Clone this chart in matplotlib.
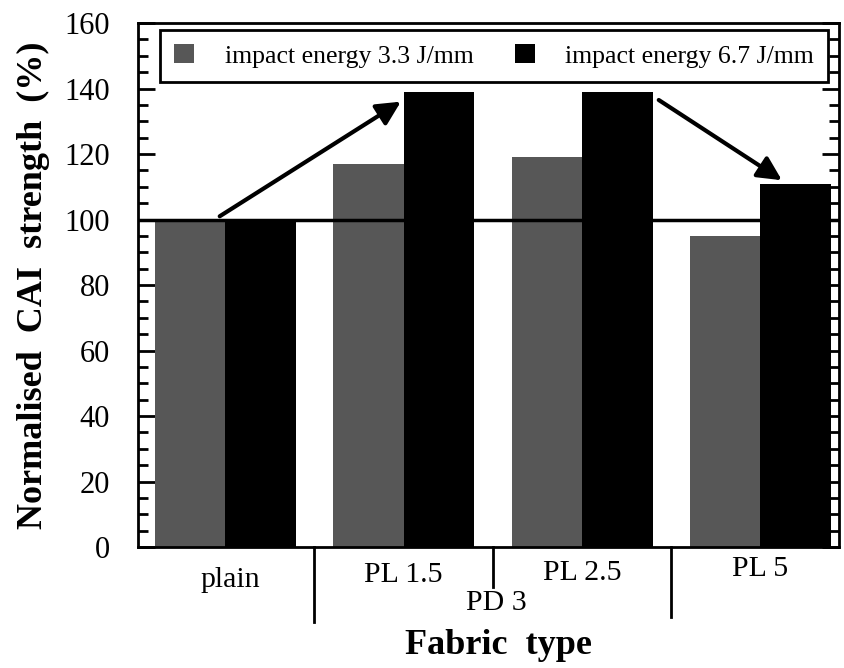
import numpy as np
import matplotlib
matplotlib.use("Agg")
import matplotlib.pyplot as plt
from matplotlib.ticker import MultipleLocator
import matplotlib.transforms as mtransforms

# data
fabrics = ["plain", "PL 1.5", "PL 2.5", "PL 5"]
low_energy = [100, 117, 119, 95]      # impact energy 3.3 J/mm
high_energy = [100, 139, 139, 111]    # impact energy 6.7 J/mm
series_names = ["impact energy 3.3 J/mm", "impact energy 6.7 J/mm"]
group_label = "PD 3"

plt.rcParams['font.family'] = ['Liberation Serif', 'DejaVu Serif']

fig = plt.figure(figsize=(8.44, 6.68), dpi=100)
ax = fig.add_axes([0.1635, 0.1811, 0.8306, 0.7844])

x = np.arange(len(fabrics))
w = 0.395
gray = '#575757'
b1 = ax.bar(x - w/2, low_energy, w, color=gray, edgecolor='none', zorder=2)
b2 = ax.bar(x + w/2, high_energy, w, color='black', edgecolor='none', zorder=2)

ax.axhline(100, color='black', lw=2.5, zorder=3)

ax.set_xlim(-0.488, 3.44)
ax.set_ylim(0, 160)

# arrows showing the trend
ax.annotate('', xy=(0.985, 136), xytext=(-0.03, 101),
            arrowprops=dict(arrowstyle='-|>', lw=3, color='black',
                            mutation_scale=36, shrinkA=0, shrinkB=0), zorder=4)
ax.annotate('', xy=(3.12, 112), xytext=(2.43, 136.5),
            arrowprops=dict(arrowstyle='-|>', lw=3, color='black',
                            mutation_scale=36, shrinkA=0, shrinkB=0), zorder=4)

# axes styling
for s in ax.spines.values():
    s.set_linewidth(2)
ax.yaxis.set_major_locator(MultipleLocator(20))
ax.yaxis.set_minor_locator(MultipleLocator(5))
ax.tick_params(axis='y', which='both', direction='in', left=True, right=True,
               width=2, labelsize=22, pad=20)
ax.tick_params(axis='y', which='major', length=12)
ax.tick_params(axis='y', which='minor', length=7)
ax.set_xticks([])

# category labels and separators below the axis
trans = mtransforms.blended_transform_factory(ax.transData, ax.transAxes)
label_y = [-0.063, -0.053, -0.050, -0.042]
for i, name in enumerate(fabrics):
    ax.text(i + (0.03 if i == 0 else 0), label_y[i], name, transform=trans,
            ha='center', va='center', fontsize=21.5)
ax.text(1.52, -0.107, group_label, transform=trans, ha='center', va='center',
        fontsize=21.5)
sep_len = [-0.143, -0.076, -0.134]
for i, ln in enumerate(sep_len):
    ax.plot([i + 0.5, i + 0.5], [0, ln], color='black', lw=2,
            transform=trans, clip_on=False)

ax.set_ylabel("Normalised  CAI  strength  (%)", fontsize=26, fontweight='bold')
ax.yaxis.set_label_coords(-0.126, 0.5)
ax.set_xlabel("Fabric  type", fontsize=26, fontweight='bold')
ax.xaxis.set_label_coords(0.514, -0.157)

leg = ax.legend([b1, b2], series_names, loc='upper left',
                bbox_to_anchor=(0.031, 0.987), ncol=2, fontsize=18.5,
                frameon=True, fancybox=False, framealpha=1,
                handlelength=0.78, handleheight=0.78, handletextpad=1.2,
                columnspacing=1.6, borderpad=0.55, borderaxespad=0)
leg.get_frame().set_edgecolor('black')
leg.get_frame().set_linewidth(2)

fig.savefig("out.png", dpi=100)
